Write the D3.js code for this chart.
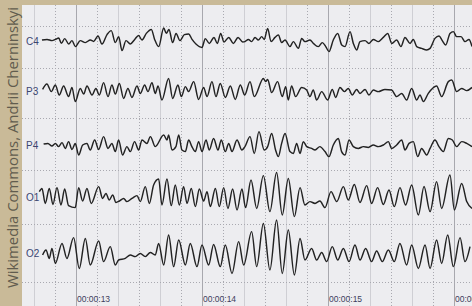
<!DOCTYPE html>
<html>
<head>
<meta charset="utf-8">
<script src="https://cdn.jsdelivr.net/npm/d3@7"></script>
<style>
  body { margin: 0; background: #c9ba98; }
  svg { display: block; }
</style>
</head>
<body>
<div id="chart"></div>
<script>
// channel names, top to bottom
var channels = ["C4", "P3", "P4", "O1", "O2"];

// time labels along the bottom (seconds)
var tickSeconds = [13, 14, 15, 16];
var tickLabels = ["00:00:13", "00:00:14", "00:00:15", "00:00:16"];

// extrema: [time (s), amplitude (uV)]
var c4 = [[12.730,5],[12.770,8],[12.810,2],[12.836,8],[12.863,15],[12.884,-12],[12.910,12],[12.942,-15],[12.968,2],[12.995,-28],[13.034,2],[13.074,-8],[13.114,5],[13.140,-2],[13.175,25],[13.206,-15],[13.246,32],[13.280,52],[13.312,-8],[13.339,22],[13.365,-48],[13.397,2],[13.431,-15],[13.466,8],[13.497,28],[13.524,5],[13.558,38],[13.598,58],[13.624,8],[13.656,-28],[13.696,65],[13.717,38],[13.738,58],[13.767,-8],[13.794,38],[13.825,2],[13.860,32],[13.894,35],[13.921,8],[13.952,-15],[14.000,-32],[14.026,12],[14.058,-12],[14.095,18],[14.122,-12],[14.148,38],[14.175,-5],[14.212,18],[14.249,-12],[14.286,18],[14.323,-5],[14.341,-3],[14.368,8],[14.394,-3],[14.421,18],[14.447,5],[14.474,22],[14.494,8],[14.521,63],[14.548,-3],[14.579,18],[14.606,30],[14.632,-8],[14.659,5],[14.698,-28],[14.725,-3],[14.765,-37],[14.791,13],[14.817,-3],[14.857,5],[14.884,-12],[14.923,-28],[14.955,-8],[14.982,-28],[15.008,-53],[15.042,5],[15.077,38],[15.109,-20],[15.135,-28],[15.175,47],[15.201,-12],[15.228,-45],[15.254,-3],[15.294,2],[15.325,-12],[15.360,8],[15.399,-3],[15.439,18],[15.474,38],[15.506,-12],[15.545,5],[15.579,-28],[15.611,18],[15.651,-12],[15.677,8],[15.704,-28],[15.743,-37],[15.783,-45],[15.810,-37],[15.849,13],[15.881,25],[15.907,2],[15.934,-20],[15.968,38],[15.995,47],[16.021,22],[16.056,22],[16.087,-3],[16.119,8],[16.143,-28]];

var p3 = [[12.735,8],[12.769,35],[12.804,-3],[12.836,30],[12.867,-20],[12.902,25],[12.941,-28],[12.968,18],[12.994,-53],[13.034,13],[13.061,-15],[13.087,25],[13.127,-20],[13.158,13],[13.185,-20],[13.219,42],[13.254,-28],[13.285,30],[13.312,-15],[13.344,38],[13.378,-37],[13.412,13],[13.444,-32],[13.484,25],[13.510,-12],[13.545,30],[13.571,-3],[13.603,42],[13.629,-12],[13.651,25],[13.682,-45],[13.735,63],[13.767,-37],[13.809,30],[13.836,-28],[13.868,22],[13.894,-3],[13.934,47],[13.973,-42],[14.013,18],[14.040,-28],[14.079,47],[14.111,-28],[14.145,38],[14.185,-32],[14.225,25],[14.264,-42],[14.304,30],[14.339,-20],[14.381,47],[14.415,-28],[14.487,63],[14.505,47],[14.521,58],[14.553,-8],[14.600,47],[14.637,-28],[14.664,22],[14.685,-45],[14.711,25],[14.743,-28],[14.791,18],[14.831,5],[14.857,-28],[14.883,5],[14.910,-45],[14.950,-3],[14.997,-45],[15.034,8],[15.061,-32],[15.095,18],[15.130,-3],[15.161,13],[15.193,-20],[15.227,8],[15.254,-12],[15.294,8],[15.325,-20],[15.360,5],[15.399,-3],[15.452,8],[15.505,5],[15.545,-28],[15.585,-12],[15.624,-45],[15.664,13],[15.704,-45],[15.730,-20],[15.757,-53],[15.796,-12],[15.862,25],[15.902,-28],[15.955,47],[15.982,55],[16.021,-3],[16.061,13],[16.101,2],[16.143,18]];

var p4 = [[12.743,5],[12.777,8],[12.809,-5],[12.836,8],[12.862,-8],[12.889,12],[12.915,-17],[12.941,17],[12.968,-22],[12.994,8],[13.021,-50],[13.053,0],[13.087,8],[13.113,-25],[13.148,25],[13.180,-22],[13.219,42],[13.254,-17],[13.285,8],[13.312,-33],[13.338,25],[13.370,-50],[13.404,-8],[13.431,-33],[13.465,17],[13.497,-25],[13.524,25],[13.563,8],[13.590,42],[13.629,-8],[13.696,50],[13.722,25],[13.735,50],[13.762,-25],[13.793,-8],[13.815,50],[13.841,-25],[13.868,-33],[13.894,25],[13.920,-8],[13.947,-33],[13.973,17],[14.000,-33],[14.032,25],[14.058,-25],[14.092,33],[14.127,-25],[14.153,25],[14.185,-33],[14.212,8],[14.238,-33],[14.278,25],[14.317,-25],[14.341,-8],[14.381,42],[14.415,-42],[14.452,67],[14.494,-25],[14.521,-8],[14.553,58],[14.584,-25],[14.606,-58],[14.632,8],[14.659,58],[14.698,-33],[14.725,-42],[14.751,8],[14.778,-42],[14.804,17],[14.831,-8],[14.870,-17],[14.897,-25],[14.936,-8],[14.976,-33],[15.008,-58],[15.042,0],[15.082,33],[15.108,-33],[15.135,-50],[15.167,25],[15.201,-8],[15.241,-17],[15.280,-8],[15.320,-12],[15.360,0],[15.399,-8],[15.439,0],[15.479,17],[15.505,-17],[15.545,0],[15.585,25],[15.611,-25],[15.643,8],[15.677,17],[15.712,-58],[15.743,-17],[15.783,-50],[15.810,-17],[15.849,25],[15.881,-8],[15.915,-33],[15.955,33],[15.987,25],[16.021,-8],[16.061,17],[16.101,8],[16.143,-8]];

var o1 = [[12.709,27],[12.730,43],[12.756,-32],[12.788,43],[12.817,-37],[12.849,47],[12.881,-40],[12.910,40],[12.941,-43],[12.994,-53],[13.021,47],[13.053,-20],[13.087,43],[13.121,-32],[13.180,52],[13.211,-7],[13.238,18],[13.264,-15],[13.291,10],[13.317,-27],[13.344,-20],[13.378,-7],[13.404,-23],[13.444,-7],[13.484,7],[13.510,-23],[13.550,52],[13.582,-32],[13.616,60],[13.656,90],[13.682,-40],[13.722,90],[13.756,-43],[13.788,60],[13.820,-40],[13.854,52],[13.881,-32],[13.915,43],[13.947,-48],[13.979,40],[14.013,-20],[14.040,27],[14.066,-48],[14.106,43],[14.137,-48],[14.172,47],[14.206,-57],[14.243,40],[14.278,-65],[14.317,40],[14.346,-53],[14.389,85],[14.434,-57],[14.487,107],[14.539,-73],[14.592,123],[14.637,-90],[14.685,93],[14.733,-98],[14.778,47],[14.817,-40],[14.857,-23],[14.897,-32],[14.936,-20],[14.976,-53],[15.024,27],[15.069,-23],[15.122,52],[15.161,-15],[15.209,63],[15.254,-27],[15.307,57],[15.346,-32],[15.394,47],[15.439,-37],[15.484,35],[15.526,-48],[15.571,47],[15.616,-40],[15.664,60],[15.717,-90],[15.762,52],[15.810,-73],[15.862,77],[15.902,-57],[15.968,110],[16.003,-65],[16.061,68],[16.101,-23],[16.143,-57]];

var o2 = [[12.735,-10],[12.762,15],[12.788,-27],[12.809,23],[12.836,-52],[12.889,48],[12.928,-27],[12.981,77],[13.026,-77],[13.074,73],[13.113,-60],[13.180,60],[13.219,-43],[13.272,32],[13.312,-60],[13.338,-35],[13.391,-27],[13.431,-10],[13.471,-18],[13.510,-2],[13.550,-18],[13.590,3],[13.629,-10],[13.656,48],[13.696,-60],[13.735,90],[13.775,-68],[13.815,65],[13.868,-60],[13.907,48],[13.960,-68],[14.000,40],[14.053,-60],[14.092,43],[14.145,-68],[14.185,40],[14.238,-102],[14.291,57],[14.331,-60],[14.394,107],[14.434,-68],[14.487,148],[14.539,-85],[14.592,165],[14.637,-102],[14.685,115],[14.733,-110],[14.778,73],[14.817,-35],[14.870,23],[14.910,-35],[14.950,3],[14.989,-43],[15.034,32],[15.077,-35],[15.122,23],[15.167,-43],[15.214,40],[15.254,-35],[15.299,23],[15.346,-43],[15.386,10],[15.431,-43],[15.479,15],[15.526,-43],[15.571,48],[15.624,-60],[15.664,40],[15.717,-77],[15.770,40],[15.810,-77],[15.862,65],[15.902,-52],[15.950,90],[15.995,-68],[16.048,77],[16.087,-43],[16.127,32]];

var traces = [c4, p3, p4, o1, o2];

var width = 472, height = 306;
var panel = { left: 22, top: 5 };

var svg = d3.select("#chart").append("svg")
  .attr("width", width)
  .attr("height", height);

svg.append("rect")
  .attr("width", width).attr("height", height)
  .attr("fill", "#c9ba98");

svg.append("rect")
  .attr("x", panel.left).attr("y", panel.top)
  .attr("width", width - panel.left).attr("height", height - panel.top)
  .attr("fill", "#ededf0");

var x = d3.scaleLinear().domain([13, 16]).range([76, 454]);
// channel baselines are not quite evenly spaced in the recording view
var row = d3.scaleOrdinal().domain(channels).range([41, 91, 145, 197, 253]);
var amp = d3.scaleLinear().domain([-100, 100]).range([20, -20]);

var grid = svg.append("g");

// fine dotted grid every 1/6 s
var fine = d3.range(0, 22).map(function (i) { return 12.5 + i / 6; })
  .filter(function (t) { return x(t) > panel.left + 2 && x(t) < width; });
grid.selectAll(".fine").data(fine).enter().append("line")
  .attr("x1", function (d) { return x(d); }).attr("x2", function (d) { return x(d); })
  .attr("y1", panel.top).attr("y2", height)
  .attr("stroke", "#a9a9b0").attr("stroke-width", 1)
  .attr("stroke-dasharray", "1,2")
  .attr("shape-rendering", "crispEdges");

// solid lines every 1/3 s
var third = d3.range(0, 11).map(function (i) { return 12.6667 + i / 3; })
  .filter(function (t) { return Math.abs(t - Math.round(t)) > 0.01; });
grid.selectAll(".third").data(third).enter().append("line")
  .attr("x1", function (d) { return x(d); }).attr("x2", function (d) { return x(d); })
  .attr("y1", panel.top).attr("y2", height)
  .attr("stroke", "#cfcfd4").attr("stroke-width", 1)
  .attr("shape-rendering", "crispEdges");

// one second marks
grid.selectAll(".sec").data(tickSeconds).enter().append("line")
  .attr("x1", function (d) { return x(d); }).attr("x2", function (d) { return x(d); })
  .attr("y1", panel.top).attr("y2", height)
  .attr("stroke", "#a8a8ae").attr("stroke-width", 1)
  .attr("shape-rendering", "crispEdges");

// horizontal dotted lines between channels
var hy = [26, 68, 118, 170, 224, 282];
grid.selectAll(".h").data(hy).enter().append("line")
  .attr("x1", panel.left).attr("x2", width)
  .attr("y1", function (d) { return d; }).attr("y2", function (d) { return d; })
  .attr("stroke", "#a9a9b0").attr("stroke-dasharray", "1,2")
  .attr("shape-rendering", "crispEdges");

var line = d3.line()
  .x(function (d) { return x(d[0]); })
  .y(function (d) { return amp(d[1]); })
  .curve(d3.curveMonotoneX);

var ch = svg.selectAll(".channel").data(channels).enter().append("g")
  .attr("transform", function (d) { return "translate(0," + row(d) + ")"; });

ch.append("path")
  .attr("d", function (d, i) { return line(traces[i]); })
  .attr("fill", "none")
  .attr("stroke", "#222")
  .attr("stroke-width", 1.45)
  .attr("stroke-linejoin", "round");

ch.append("text")
  .attr("x", 26).attr("y", 3.5)
  .attr("font-family", "Liberation Sans, Arial, sans-serif")
  .attr("font-size", 10)
  .attr("fill", "#3b4670")
  .text(function (d) { return d; });

svg.selectAll(".tick").data(tickSeconds).enter().append("text")
  .attr("x", function (d) { return x(d) + 1; })
  .attr("y", 302)
  .attr("font-family", "Liberation Sans, Arial, sans-serif")
  .attr("font-size", 8.5)
  .attr("fill", "#3d3d5e")
  .text(function (d, i) { return tickLabels[i]; });

svg.append("text")
  .attr("transform", "translate(18,288) rotate(-90)")
  .attr("font-family", "Open Sans, sans-serif")
  .attr("font-size", 15)
  .attr("fill", "#615c4e")
  .attr("textLength", 281)
  .attr("lengthAdjust", "spacingAndGlyphs")
  .text("Wikimedia Commons, Andrii Cherninskyi");
</script>
</body>
</html>
